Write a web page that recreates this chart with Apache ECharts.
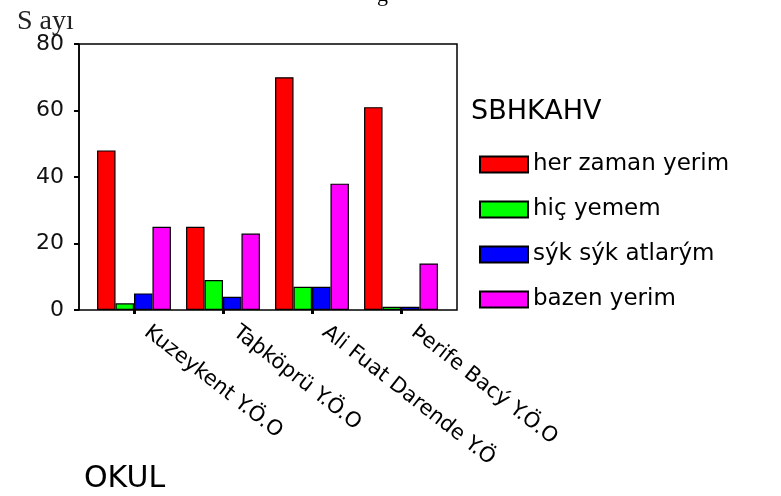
<!DOCTYPE html>
<html>
<head>
<meta charset="utf-8">
<script src="https://cdn.jsdelivr.net/npm/echarts@6/dist/echarts.min.js"></script>
<style>
html,body{margin:0;padding:0;background:#fff;}
#chart{width:781px;height:496px;}
</style>
</head>
<body>
<div id="chart"></div>
<script>
var categories = ['Kuzeykent Y.Ö.O', 'Taþköprü Y.Ö.O', 'Ali Fuat Darende Y.Ö', 'Þerife Bacý Y.Ö.O'];
var seriesNames = ['her zaman yerim', 'hiç yemem', 'sýk sýk atlarým', 'bazen yerim'];
var herZaman = [48, 25, 70, 61];
var hicYemem = [2, 9, 7, 1];
var sikSik = [5, 4, 7, 1];
var bazen = [25, 23, 38, 14];
var yTicks = [0, 20, 40, 60, 80];
var colors = ['#ff0000', '#00ff00', '#0000ff', '#ff00ff'];
var values = [herZaman, hicYemem, sikSik, bazen];

var font = 'DejaVu Sans';
var chart = echarts.init(document.getElementById('chart'), null, {renderer: 'canvas'});

var series = seriesNames.map(function (n, i) {
  return {
    name: n,
    type: 'bar',
    xAxisIndex: 1,
    yAxisIndex: 1,
    data: values[i],
    barGap: '0%',
    barCategoryGap: '17%',
    itemStyle: {color: colors[i], borderColor: '#000', borderWidth: 1.2},
    emphasis: {disabled: true},
    animation: false
  };
});

chart.setOption({
  animation: false,
  backgroundColor: '#fff',
  title: [
    {text: 'S ayı', left: 12, top: 3, textStyle: {fontFamily: 'Liberation Serif', fontSize: 28, fontWeight: 'normal', color: '#222'}},
    {text: 'SBHKAHV', left: 466, top: 93, textStyle: {fontFamily: font, fontSize: 27, fontWeight: 'normal', color: '#000'}},
    {text: 'OKUL', left: 79, top: 459, textStyle: {fontFamily: font, fontSize: 30, fontWeight: 'normal', color: '#000'}},
    {text: 'g', left: 372, top: -21, textStyle: {fontFamily: 'Liberation Serif', fontSize: 22, fontWeight: 'normal', color: '#000'}}
  ],
  legend: {
    data: seriesNames,
    orient: 'vertical',
    left: 474,
    top: 148,
    itemWidth: 48,
    itemHeight: 16,
    itemGap: 22,
    selectedMode: false,
    icon: 'rect',
    textStyle: {fontFamily: font, fontSize: 23, color: '#000'}
  },
  grid: [
    {left: 79, top: 44, width: 378, height: 266, show: true, borderColor: '#000', borderWidth: 1.5, backgroundColor: 'transparent'},
    {left: 89.5, top: 44, width: 356, height: 266}
  ],
  xAxis: [
    {type: 'category', gridIndex: 0, data: categories, show: false},
    {
      type: 'category', gridIndex: 1, data: categories,
      axisLine: {show: false},
      axisTick: {show: true, alignWithLabel: true, length: 4, lineStyle: {color: '#000', width: 3}},
      axisLabel: {rotate: -38, margin: 10, padding: [0, 0, 0, 16], fontFamily: font, fontSize: 21, color: '#000', interval: 0}
    }
  ],
  yAxis: [
    {
      type: 'value', gridIndex: 0, min: 0, max: 80, interval: 20,
      axisLine: {show: true, lineStyle: {color: '#000', width: 1.5}},
      axisTick: {show: true, length: 5, lineStyle: {color: '#000', width: 2}},
      axisLabel: {margin: 15, fontFamily: font, fontSize: 22, color: '#111',
        formatter: function (v) { return yTicks.indexOf(v) >= 0 ? String(v) : ''; }},
      splitLine: {show: false}
    },
    {type: 'value', gridIndex: 1, min: 0, max: 80, interval: 20, show: false, splitLine: {show: false}}
  ],
  series: series
});
</script>
</body>
</html>
